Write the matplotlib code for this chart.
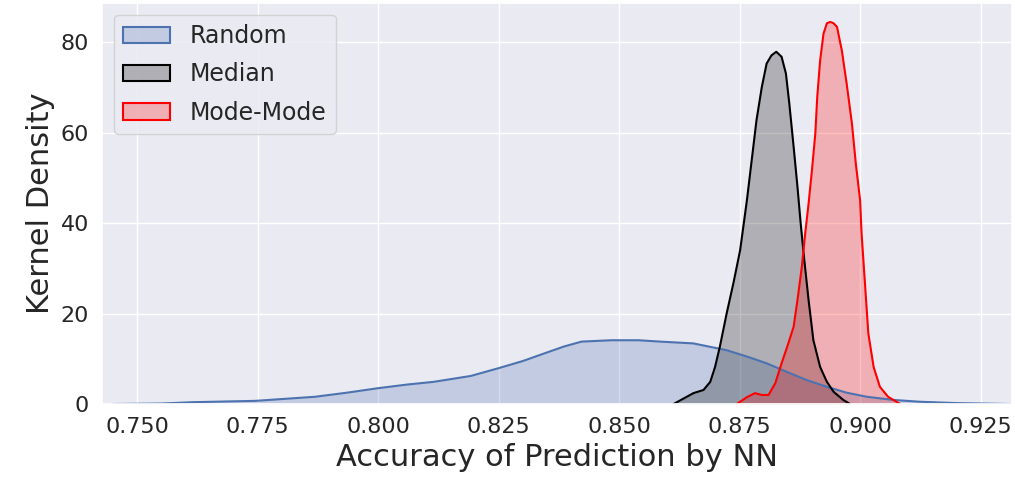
import numpy as np
import matplotlib
matplotlib.use("Agg")
import matplotlib.pyplot as plt
import seaborn as sns
from matplotlib.patches import Patch

# densities
rand_x = [0.745, 0.755, 0.7615, 0.7746, 0.7869, 0.7935, 0.800, 0.8060, 0.8115, 0.8192,
          0.8249, 0.8300, 0.8345, 0.8385, 0.8422, 0.8484, 0.8540, 0.8585, 0.8654, 0.8723,
          0.8765, 0.8806, 0.8848, 0.8889, 0.8931, 0.8972, 0.9014, 0.9069, 0.9124, 0.920,
          0.931]
rand_d = [0.0, 0.1, 0.4, 0.7, 1.6, 2.5, 3.5, 4.3, 4.9, 6.2,
          7.9, 9.5, 11.2, 12.7, 13.8, 14.1, 14.1, 13.8, 13.4, 11.9,
          10.5, 9.0, 7.1, 5.3, 3.8, 2.5, 1.6, 0.9, 0.5, 0.2,
          0.0]

med_x = [0.8613, 0.8654, 0.8675, 0.8689, 0.8699, 0.8709, 0.8723, 0.8737, 0.8751, 0.8765,
         0.8775, 0.8785, 0.8796, 0.8806, 0.8816, 0.8826, 0.8837, 0.8846, 0.8853, 0.8862,
         0.8870, 0.8876, 0.8882, 0.8893, 0.8903, 0.8917, 0.8931, 0.8945, 0.8965, 0.8979]
med_d = [0.0, 2.4, 3.1, 4.9, 8.2, 12.7, 20.0, 26.7, 34.0, 45.0,
         53.9, 62.8, 70.1, 75.3, 77.1, 77.9, 76.8, 73.1, 66.5, 56.9,
         48.0, 40.7, 34.0, 23.0, 14.1, 8.2, 4.9, 2.7, 0.9, 0.0]

mode_x = [0.8744, 0.8765, 0.8782, 0.8796, 0.8810, 0.8824, 0.8837, 0.8851, 0.8862, 0.8870,
          0.8879, 0.8886, 0.8893, 0.8900, 0.8907, 0.8911, 0.8917, 0.8924, 0.8931, 0.8938,
          0.8945, 0.8952, 0.8962, 0.8972, 0.8983, 0.8991, 0.9000, 0.9003, 0.9010, 0.9017,
          0.9028, 0.9041, 0.9058, 0.9083]
mode_d = [0.0, 1.5, 2.4, 2.0, 2.0, 4.6, 9.0, 13.4, 17.1, 23.0,
          30.3, 37.7, 44.3, 51.7, 59.8, 67.9, 76.0, 81.9, 84.2, 84.5,
          84.2, 83.4, 78.2, 70.9, 62.0, 53.2, 45.0, 37.7, 26.7, 15.6,
          8.2, 3.8, 1.6, 0.0]

labels = ['Random', 'Median', 'Mode-Mode']
colors = ['#4c72b0', 'black', 'red']

sns.set_theme(style='darkgrid')

fig = plt.figure(figsize=(10.15, 4.9), dpi=100)
ax = fig.add_axes([0.1005, 0.1755, 0.8965, 0.8185])

for xs, ds, c in zip([rand_x, med_x, mode_x], [rand_d, med_d, mode_d], colors):
    ax.fill_between(xs, ds, color=c, alpha=0.25, lw=0)
    ax.plot(xs, ds, color=c, lw=1.5)

ticks = np.arange(0.75, 0.926, 0.025)
ax.set_xlim(0.7427, 0.9315)
ax.set_ylim(0, 88.7)
ax.set_xticks(ticks)
ax.set_xticklabels(['%.3f' % t for t in ticks])
ax.set_yticks([0, 20, 40, 60, 80])
ax.tick_params(labelsize=16)
ax.set_xlabel('Accuracy of Prediction by NN', fontsize=22)
ax.set_ylabel('Kernel Density', fontsize=22)

handles = [Patch(facecolor=matplotlib.colors.to_rgba(c, 0.25), edgecolor=c, lw=1.5) for c in colors]
ax.legend(handles, labels, loc='upper left', fontsize=17, labelspacing=0.6)

fig.savefig('out.png', dpi=100)
